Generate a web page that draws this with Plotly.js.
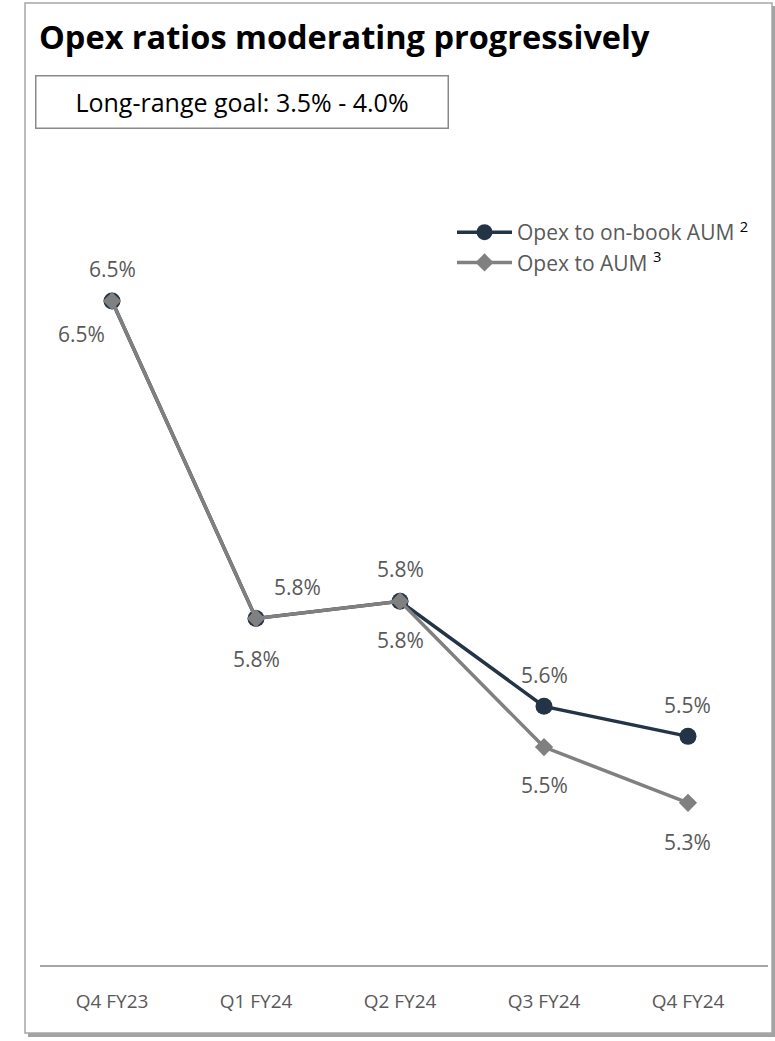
<!DOCTYPE html>
<html>
<head>
<meta charset="utf-8">
<script src="https://cdn.plot.ly/plotly-3.0.1.min.js"></script>
<style>
  html, body { margin: 0; padding: 0; background: #ffffff; }
  #chart { width: 775px; height: 1041px; }
</style>
</head>
<body>
<div id="chart"></div>
<script>
// ---- data ----
const categories = ['Q4 FY23', 'Q1 FY24', 'Q2 FY24', 'Q3 FY24', 'Q4 FY24'];
const onBookValues = [6.50, 5.76, 5.80, 5.555, 5.485];
const aumValues = [6.50, 5.76, 5.80, 5.46, 5.33];
const onBookLabels = ['6.5%', '5.8%', '5.8%', '5.6%', '5.5%'];
const aumLabels = ['6.5%', '5.8%', '5.8%', '5.5%', '5.3%'];
const seriesNames = ['Opex to on-book AUM <sup><span style="color:#000000">2</span></sup>',
                     'Opex to AUM <sup><span style="color:#000000">3</span></sup>'];
const titleText = '<b>Opex ratios moderating progressively</b>';
const goalText = 'Long-range goal: 3.5% - 4.0%';

// ---- style ----
const DARK = '#243447';
const GRAY = '#808080';
const LABEL = '#595959';
const FONT = 'Open Sans, Noto Sans, sans-serif';

const W = 775, H = 1041;
const mL = 40, mR = 7, mT = 150, mB = 76;
const plotW = W - mL - mR, plotH = H - mT - mB;
const fx = px => (px - mL) / plotW;
const fy = py => (H - mB - py) / plotH;

// per-point label offsets (px)
const onBookShift = [[0, 32], [41, 31], [0, 32], [0, 31], [0, 31]];
const aumShift = [[-31, -33], [0, -41], [0, -39], [0, -38], [0, -39]];

const idx = categories.map((c, i) => i);

const traces = [
  {
    x: idx, y: onBookValues, name: seriesNames[0], type: 'scatter', mode: 'lines+markers',
    line: { color: DARK, width: 3.5 },
    marker: { symbol: 'circle', size: 17, color: DARK },
    hoverinfo: 'skip'
  },
  {
    x: idx, y: aumValues, name: seriesNames[1], type: 'scatter', mode: 'lines+markers',
    line: { color: GRAY, width: 3.5 },
    marker: { symbol: 'diamond', size: 14, color: GRAY },
    hoverinfo: 'skip'
  }
];

const annotations = [];
idx.forEach(i => {
  annotations.push({
    x: i, y: onBookValues[i], xref: 'x', yref: 'y', text: onBookLabels[i], showarrow: false,
    xanchor: 'center', yanchor: 'middle', xshift: onBookShift[i][0], yshift: onBookShift[i][1],
    font: { family: FONT, size: 21, color: LABEL }
  });
  annotations.push({
    x: i, y: aumValues[i], xref: 'x', yref: 'y', text: aumLabels[i], showarrow: false,
    xanchor: 'center', yanchor: 'middle', xshift: aumShift[i][0], yshift: aumShift[i][1],
    font: { family: FONT, size: 21, color: LABEL }
  });
});
annotations.push({
  xref: 'paper', yref: 'paper', x: fx(35), y: fy(75), xanchor: 'left', yanchor: 'top',
  text: goalText, showarrow: false, width: 411, height: 51, align: 'center', valign: 'middle',
  bordercolor: '#8a8a8a', borderwidth: 1.5, borderpad: 0, bgcolor: '#ffffff',
  font: { family: FONT, size: 25, color: '#000000' }
});

const shapes = [
  { type: 'rect', xref: 'paper', yref: 'paper', layer: 'below',
    x0: fx(28), x1: fx(776), y0: fy(6), y1: fy(1037),
    fillcolor: '#a3a3a3', line: { width: 0 } },
  { type: 'rect', xref: 'paper', yref: 'paper', layer: 'below',
    x0: fx(25), x1: fx(772), y0: fy(3), y1: fy(1033),
    fillcolor: '#ffffff', line: { color: '#a6a6a6', width: 1.5 } }
];

const layout = {
  width: W, height: H,
  margin: { l: mL, r: mR, t: mT, b: mB, pad: 0 },
  paper_bgcolor: '#ffffff', plot_bgcolor: 'rgba(0,0,0,0)',
  font: { family: FONT, color: LABEL },
  title: {
    text: titleText, xref: 'container', yref: 'container', x: 39 / W, xanchor: 'left',
    y: 1 - 26 / H, yanchor: 'top',
    font: { family: FONT, size: 32.5, color: '#000000' }
  },
  xaxis: {
    range: [-0.5, 4.5556], tickmode: 'array', tickvals: idx, ticktext: categories,
    showgrid: false, zeroline: false, showline: true, linecolor: '#a6a6a6', linewidth: 2,
    ticks: '', ticklabelstandoff: 18, tickfont: { family: FONT, size: 19, color: LABEL },
    fixedrange: true
  },
  yaxis: {
    range: [4.952, 6.852], visible: false, showgrid: false, zeroline: false, fixedrange: true
  },
  showlegend: true,
  legend: {
    x: fx(452), y: fy(212), xanchor: 'left', yanchor: 'top',
    bgcolor: 'rgba(0,0,0,0)', borderwidth: 0, tracegroupgap: 0,
    font: { family: FONT, size: 21, color: LABEL }, itemwidth: 55
  },
  annotations: annotations,
  shapes: shapes
};

Plotly.newPlot('chart', traces, layout, { displayModeBar: false, staticPlot: true });
</script>
</body>
</html>
